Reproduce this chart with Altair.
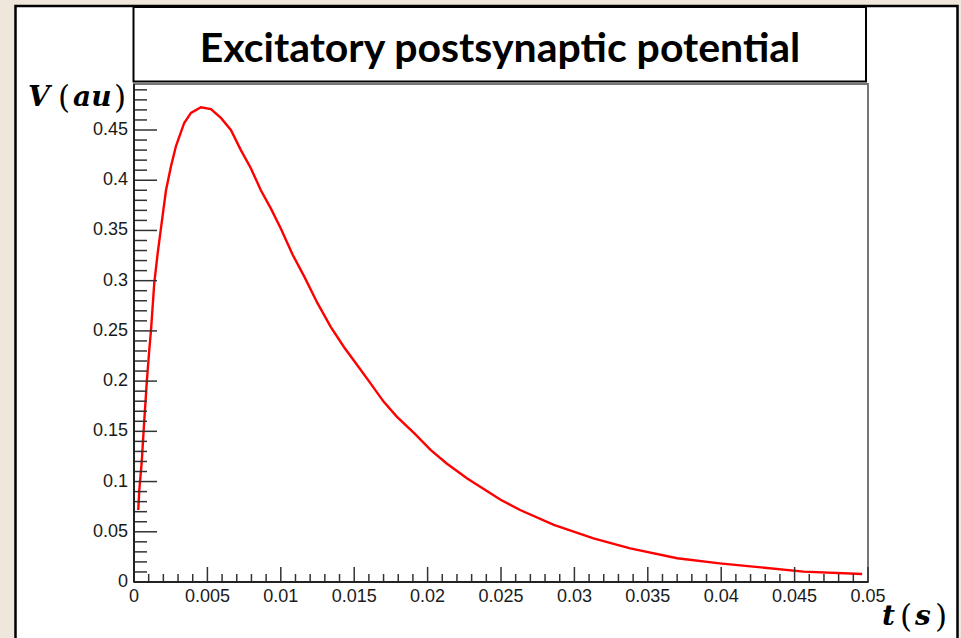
import altair as alt
import pandas as pd

# ---- data ----
t_vals = [0.00029, 0.00036, 0.00052, 0.0007, 0.00088, 0.00104, 0.00116, 0.00138,
          0.00161, 0.00188, 0.00218, 0.00252, 0.00286, 0.00342, 0.00388, 0.00456,
          0.00524, 0.00592, 0.0066, 0.00728, 0.00796, 0.00864, 0.00932, 0.0100,
          0.0108, 0.0116, 0.0125, 0.0134, 0.0143, 0.0152, 0.0161, 0.0170, 0.0179,
          0.0191, 0.0202, 0.0213, 0.0227, 0.0250, 0.0263, 0.0286, 0.0313, 0.0338,
          0.0370, 0.0399, 0.0427, 0.0456, 0.0496]
v_vals = [0.0717, 0.0916, 0.118, 0.161, 0.201, 0.231, 0.251, 0.2975,
          0.327, 0.357, 0.390, 0.414, 0.434, 0.457, 0.467, 0.4727,
          0.4708, 0.462, 0.450, 0.430, 0.412, 0.390, 0.372, 0.352,
          0.326, 0.304, 0.2776, 0.254, 0.234, 0.216, 0.198, 0.1796, 0.1647,
          0.148, 0.1315, 0.118, 0.103, 0.0817, 0.0717, 0.0568, 0.0435, 0.0335,
          0.0236, 0.0186, 0.0146, 0.0103, 0.008]

x_labels = [0, 0.005, 0.01, 0.015, 0.02, 0.025, 0.03, 0.035, 0.04, 0.045, 0.05]
x_label_text = ["0", "0.005", "0.01", "0.015", "0.02", "0.025", "0.03", "0.035",
                "0.04", "0.045", "0.05"]
y_labels = [0, 0.05, 0.1, 0.15, 0.2, 0.25, 0.3, 0.35, 0.4, 0.45]
y_label_text = ["0", "0.05", "0.1", "0.15", "0.2", "0.25", "0.3", "0.35", "0.4", "0.45"]
x_major = x_labels[1:]
x_minor = [round(i * 0.001, 3) for i in range(1, 50) if i % 5 != 0]
y_major = y_labels[1:]
y_minor = [round(i * 0.01, 2) for i in range(1, 50) if i % 5 != 0]

title_text = "Excitatory postsynaptic potential"
# axis titles split into math-italic letters and upright parentheses
y_title_parts = [("V", True), ("(", False), ("au", True), (")", False)]
x_title_parts = [("t", True), ("(", False), ("s", True), (")", False)]

W, H = 734, 498
LEFT, TOP = 134, 84
PARCH = "#efe7db"

df = pd.DataFrame({"t": t_vals, "v": v_vals})
one = pd.DataFrame({"a": [0]})

xs = alt.Scale(domain=[0, 0.05], nice=False, zero=False)
ys = alt.Scale(domain=[0, 0.4958], nice=False, zero=False)


def vrect(x0, x1, y0, y1, **kw):
    return alt.Chart(one).mark_rect(**kw).encode(
        x=alt.value(x0 - LEFT), x2=alt.value(x1 - LEFT),
        y=alt.value(y0 - TOP), y2=alt.value(y1 - TOP))


def math_text(parts, xpos, base):
    layers = []
    for (txt, ital), xp in zip(parts, xpos):
        if ital:
            mk = alt.Chart(one).mark_text(font="DejaVu Serif", fontWeight="bold",
                                          fontStyle="italic", fontSize=28, color="black",
                                          align="left", baseline="alphabetic")
            yb = base
        else:
            mk = alt.Chart(one).mark_text(font="DejaVu Serif", fontSize=31, color="black",
                                          align="left", baseline="alphabetic")
            yb = base + 2
        layers.append(mk.encode(x=alt.value(xp - LEFT), y=alt.value(yb - TOP),
                                text=alt.value(txt)))
    return layers


# parchment strips outside the white panel, then the panel border
left_strip = vrect(0, 15.5, 0, 638, fill=PARCH)
top_strip = vrect(0, 961, 0, 6, fill=PARCH)
right_strip = vrect(957.5, 961, 0, 638, fill=PARCH)
border = vrect(15.5, 957.5, 6, 660, fillOpacity=0, stroke="black", strokeWidth=2.5)

titlebox = vrect(133.5, 866, 7, 81.5, fill="white", stroke="black", strokeWidth=2)

title = alt.Chart(one).mark_text(font="Lato", fontWeight="bold", fontSize=41,
                                 color="black", align="center", baseline="alphabetic").encode(
    x=alt.value(500 - LEFT), y=alt.value(62 - TOP), text=alt.value(title_text))

ytit = math_text(y_title_parts, [28, 58, 73, 114], 106)
xtit = math_text(x_title_parts, [882, 900, 915, 935], 625)

frame = alt.Chart(one).mark_rect(fillOpacity=0, stroke="#777", strokeWidth=2).encode(
    x=alt.value(0), x2=alt.value(W), y=alt.value(0), y2=alt.value(H))

curve = alt.Chart(df).mark_line(color="#ff0000", strokeWidth=2.4).encode(
    x=alt.X("t:Q", scale=xs, axis=None),
    y=alt.Y("v:Q", scale=ys, axis=None),
    order="t:Q")

tick_style = dict(color="#333", strokeWidth=1.5)

xmaj = alt.Chart(pd.DataFrame({"t": x_major})).mark_rule(**tick_style).encode(
    x=alt.X("t:Q", scale=xs, axis=None), y=alt.value(H), y2=alt.value(H - 15))
xmin = alt.Chart(pd.DataFrame({"t": x_minor})).mark_rule(**tick_style).encode(
    x=alt.X("t:Q", scale=xs, axis=None), y=alt.value(H), y2=alt.value(H - 8))
ymaj = alt.Chart(pd.DataFrame({"v": y_major})).mark_rule(**tick_style).encode(
    y=alt.Y("v:Q", scale=ys, axis=None), x=alt.value(0), x2=alt.value(23))
ymin = alt.Chart(pd.DataFrame({"v": y_minor})).mark_rule(**tick_style).encode(
    y=alt.Y("v:Q", scale=ys, axis=None), x=alt.value(0), x2=alt.value(13))

xdomain = alt.Chart(one).mark_rule(color="#222", strokeWidth=2).encode(
    x=alt.value(0), x2=alt.value(W), y=alt.value(H))
ydomain = alt.Chart(one).mark_rule(color="#222", strokeWidth=2).encode(
    x=alt.value(0), y=alt.value(0), y2=alt.value(H))

LABEL_FONT = "Liberation Sans"
LABEL_SIZE = 18

xlab = alt.Chart(pd.DataFrame({"t": x_labels, "s": x_label_text})).mark_text(
    font=LABEL_FONT, fontSize=LABEL_SIZE, color="#1a1a1a", align="center", baseline="top").encode(
    x=alt.X("t:Q", scale=xs, axis=None), y=alt.value(H + 6), text="s:N")
ylab = alt.Chart(pd.DataFrame({"v": y_labels, "s": y_label_text})).mark_text(
    font=LABEL_FONT, fontSize=LABEL_SIZE, color="#1a1a1a", align="right", baseline="middle").encode(
    y=alt.Y("v:Q", scale=ys, axis=None), x=alt.value(-6), text="s:N")

chart = alt.layer(left_strip, top_strip, right_strip, border, titlebox, title,
                  *ytit, *xtit,
                  frame, curve, xmaj, xmin, ymaj, ymin, xdomain, ydomain,
                  xlab, ylab).properties(
    width=W, height=H,
    padding={"left": LEFT, "top": TOP, "right": 961 - LEFT - W, "bottom": 638 - TOP - H},
    autosize=alt.AutoSizeParams(type="none"),
    background="white",
).configure_view(stroke=None)

chart.save("out.html", embed_options={"renderer": "svg", "actions": False})
